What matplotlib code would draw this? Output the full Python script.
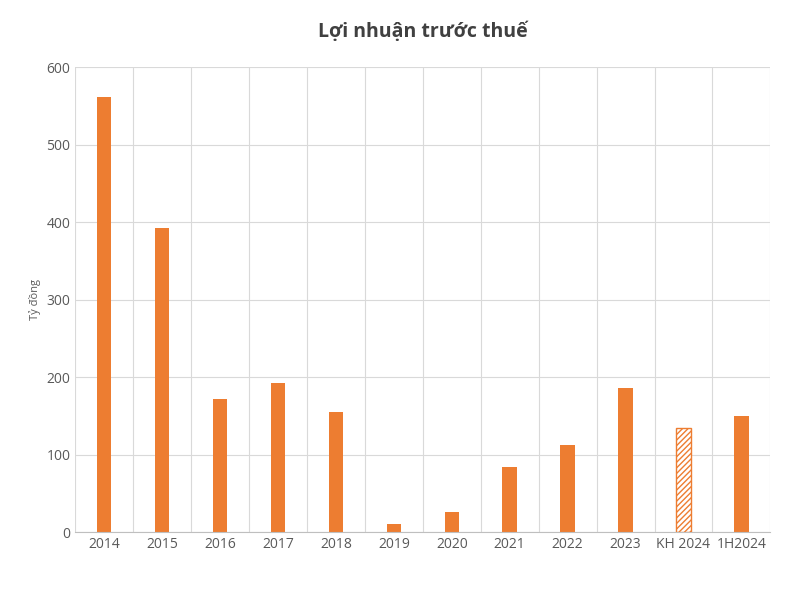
import matplotlib.pyplot as plt
import numpy as np

# Lợi nhuận trước thuế (tỷ đồng)
nam = ['2014', '2015', '2016', '2017', '2018', '2019', '2020', '2021', '2022', '2023', 'KH 2024', '1H2024']
loi_nhuan = [562, 392, 172, 192, 155, 11, 26, 84, 112, 186, 134, 150]
ke_hoach = [False] * 10 + [True, False]

plt.rcParams['font.family'] = ['Open Sans', 'DejaVu Sans']
mau = '#ED7D31'

fig = plt.figure(figsize=(8, 6), dpi=100)
ax = fig.add_axes([0.094, 0.113, 0.869, 0.775])

x = np.arange(len(nam))
for xi, v, kh in zip(x, loi_nhuan, ke_hoach):
    if kh:
        ax.bar(xi, v, width=0.25, facecolor='white', edgecolor=mau, hatch='//////', linewidth=1)
    else:
        ax.bar(xi, v, width=0.25, color=mau)

ax.set_xlim(-0.5, len(nam) - 0.5)
ax.set_ylim(0, 600)
ax.set_yticks(range(0, 601, 100))
ax.set_xticks(x)
ax.set_xticklabels(nam)
ax.set_xticks(np.arange(-0.5, len(nam), 1), minor=True)
ax.tick_params(axis='x', which='minor', length=0)
ax.tick_params(axis='both', which='major', length=0, labelsize=10, colors='#595959')
ax.grid(axis='y', color='#D9D9D9', linewidth=0.8)
ax.grid(axis='x', which='minor', color='#D9D9D9', linewidth=0.8)
ax.set_axisbelow(True)
for s in ['top', 'right', 'left']:
    ax.spines[s].set_visible(False)
ax.spines['bottom'].set_color('#BFBFBF')
ax.set_ylabel('Tỷ đồng', fontsize=8, color='#595959')
ax.set_title('Lợi nhuận trước thuế', fontsize=14, fontweight='bold', color='#404040', pad=22)

fig.savefig('out.png')
